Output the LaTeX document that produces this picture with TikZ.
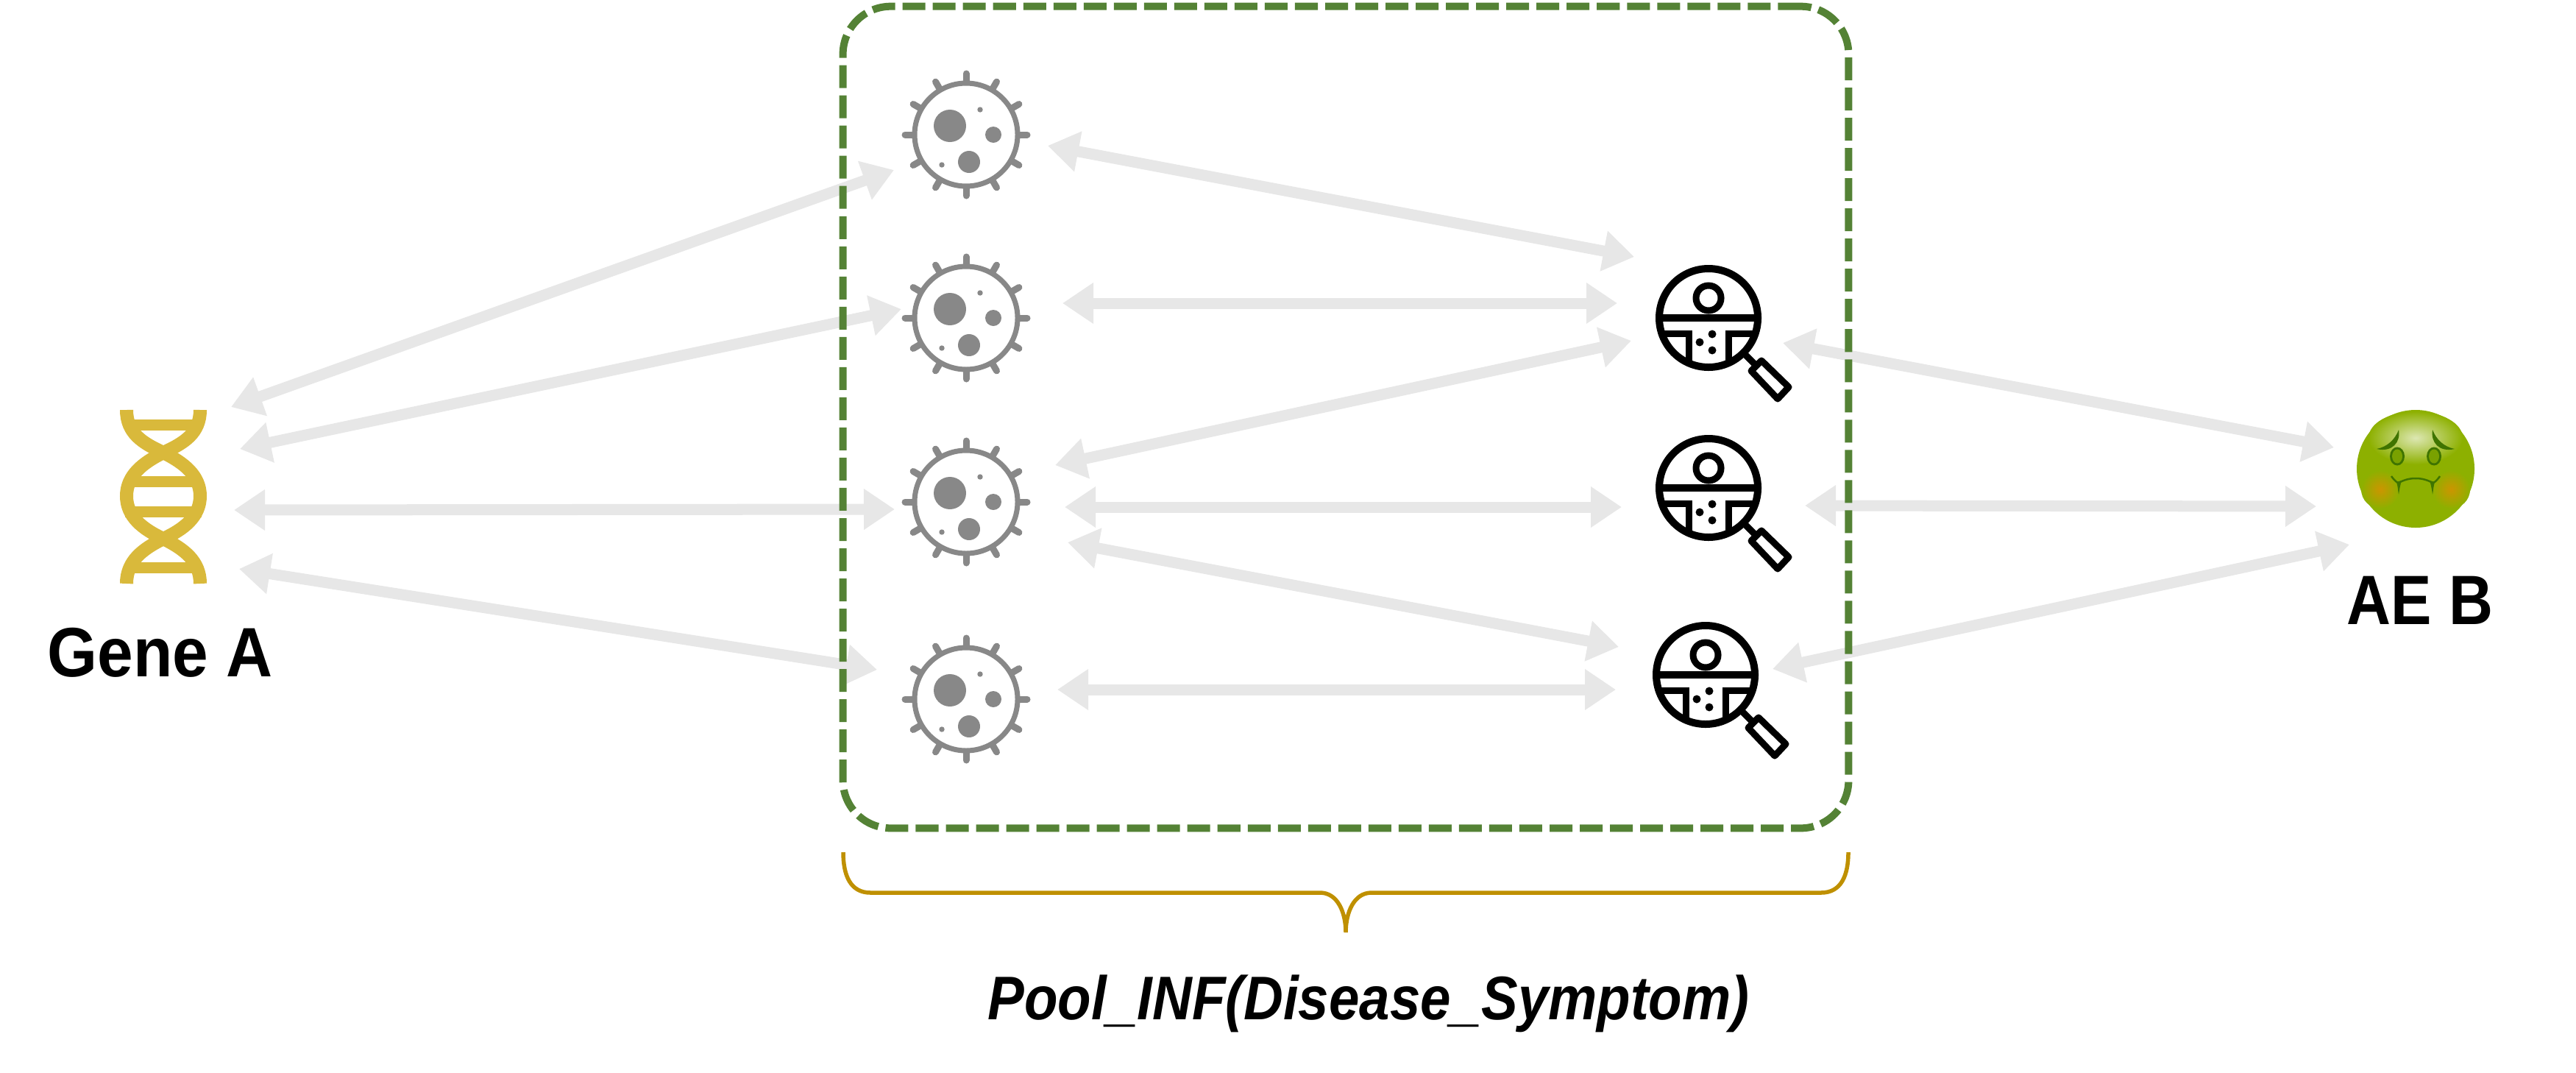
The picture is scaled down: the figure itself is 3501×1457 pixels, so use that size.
\documentclass[tikz,border=0pt]{standalone}
\usepackage{fontspec}
\usetikzlibrary{arrows.meta}
\newfontfamily\labelfont[FakeStretch=0.92]{Liberation Sans}
\newfontfamily\aefont[FakeStretch=0.875]{Liberation Sans}
\newfontfamily\poolfont[FakeStretch=0.89]{Liberation Sans}
\definecolor{poolgreen}{HTML}{548235}
\definecolor{bracegold}{HTML}{BF9000}
\definecolor{arrowgray}{HTML}{E7E7E7}
\definecolor{virusgray}{HTML}{888888}
\definecolor{dnagold}{HTML}{D9B93B}
\definecolor{sickgreen}{HTML}{8DB000}
\definecolor{sickdark}{HTML}{3F7400}
\tikzset{
    biarrow/.style = {line width=.15cm, draw=arrowgray, {Triangle[length=.42cm,width=.53cm]}-{Triangle[length=.42cm,width=.53cm]}},
    iconnode/.style = {inner sep=0pt, minimum size=0pt},
    labeltext/.style = {inner sep=0pt, anchor=base west, font=\labelfont\fontsize{27}{30}\selectfont\bfseries},
    aetext/.style = {inner sep=0pt, anchor=base west, font=\aefont\fontsize{27}{30}\selectfont\bfseries},
    pooltext/.style = {inner sep=0pt, anchor=base west, font=\poolfont\fontsize{23.8}{28}\selectfont\bfseries\itshape},
    poolbox/.style = {draw=poolgreen, line width=.1cm, dash pattern=on .31cm off .1cm, rounded corners=.65cm, inner sep=0pt, minimum width=13.66cm, minimum height=11.16cm},
    virus/.pic = {
        \draw[virusgray, line width=.07cm] (0,0) circle (70);
        \foreach \ang in {0,30,...,330}
            \draw[virusgray, line width=.09cm, line cap=round] (\ang:72) -- (\ang:83);
        \fill[virusgray] (-22,-12) circle (22);
        \fill[virusgray] (37,0) circle (11);
        \fill[virusgray] (4,37) circle (15);
        \fill[virusgray] (19,-34) circle (3.7);
        \fill[virusgray] (-33,41) circle (3.7);
    },
    lens/.pic = {
        \draw[black, line width=.1cm] (0,0) circle (67);
        \draw[black, line width=.09cm] (0,-27) circle (17);
        \draw[black, line width=.1cm] (-67,0) -- (67,0);
        \draw[black, line width=.09cm] (-60,21) -- (-27,21) -- (-27,58);
        \draw[black, line width=.09cm] (60,21) -- (27,21) -- (27,58);
        \fill[black] (5,22) circle (5.5);
        \fill[black] (-12,33) circle (5.5);
        \fill[black] (5,44) circle (5.5);
        \draw[black, line width=.09cm] (48,48) -- (64,64);
        \draw[black, line width=.09cm, line join=round] (72,58) -- (109,94) -- (94,110) -- (58,72) -- cycle;
    },
    dna/.pic = {
        % two strands and the rungs
        \draw[dnagold, line width=.18cm] (-50,-117) .. controls (-50,-85) and (-28,-72) .. (0,-59) .. controls (28,-45) and (50,-28) .. (50,0) .. controls (50,28) and (28,45) .. (0,58) .. controls (-28,72) and (-50,88) .. (-50,119);
        \draw[dnagold, line width=.18cm] (50,-117) .. controls (50,-85) and (28,-72) .. (0,-59) .. controls (-28,-45) and (-50,-28) .. (-50,0) .. controls (-50,28) and (-28,45) .. (0,58) .. controls (28,72) and (50,88) .. (50,119);
        \foreach \yy in {-97,-20,21,97}
            \draw[dnagold, line width=.15cm] (-52,\yy) -- (52,\yy);
    },
    sick/.pic = {
        \fill[sickgreen] (0,0) circle (80);
        \shade[inner color=sickgreen!30!white, outer color=sickgreen] (0,-42) ellipse (64 and 36);
        \shade[inner color=orange!55!sickgreen, outer color=sickgreen] (-48,28) circle (26);
        \shade[inner color=orange!55!sickgreen, outer color=sickgreen] (48,28) circle (26);
        \foreach \side in {1,-1} {
            \begin{scope}[xscale=\side]
                \fill[sickdark] (-53,-27) .. controls (-38,-30) and (-28,-40) .. (-23,-53) .. controls (-20,-36) and (-32,-22) .. cycle;
                \fill[sickdark] (-25,-17) ellipse (10 and 12.5);
                \fill[sickgreen!75!sickdark] (-25,-17) ellipse (7 and 9.5);
                \draw[sickdark, line width=.025cm] (-33,10) .. controls (-28,17) and (-25,19) .. (-23,19) .. controls (-14,14) and (-6,13) .. (0,13);
                \fill[sickdark] (-26,18) .. controls (-24,24) and (-24,30) .. (-23,35) .. controls (-22,28) and (-21,22) .. (-19,16) -- cycle;
            \end{scope}
        }
    }
}

\begin{document}
\begin{tikzpicture}[x=0.01cm, y=-0.01cm]
    \useasboundingbox (0,0) rectangle (3501,1457);

    % specify the icon nodes
    \node[iconnode] (gene) at (222,674) {};
    \node[iconnode] (vir1) at (1313,183) {};
    \node[iconnode] (vir2) at (1313,432) {};
    \node[iconnode] (vir3) at (1313,682) {};
    \node[iconnode] (vir4) at (1313,950) {};
    \node[iconnode] (lens1) at (2322,432) {};
    \node[iconnode] (lens2) at (2322,663) {};
    \node[iconnode] (lens3) at (2318,917) {};
    \node[iconnode] (ae) at (3283,637) {};

    % draw icons
    \pic at (gene.center) {dna};
    \pic at (vir1.center) {virus};
    \pic at (vir2.center) {virus};
    \pic at (vir3.center) {virus};
    \pic at (vir4.center) {virus};
    \pic at (lens1.center) {lens};
    \pic at (lens2.center) {lens};
    \pic at (lens3.center) {lens};
    \pic at (ae.center) {sick};

    % gene to disease
    \draw[biarrow] ([shift={(92,-121)}]gene.center) -- ([shift={(-98,48)}]vir1.center);
    \draw[biarrow] ([shift={(104,-64)}]gene.center) -- ([shift={(-88,-12)}]vir2.center);
    \draw[biarrow] ([shift={(96,19)}]gene.center) -- ([shift={(-97,10)}]vir3.center);
    \draw[biarrow] ([shift={(103,99)}]gene.center) -- ([shift={(-121,-40)}]vir4.center);

    % disease to symptom
    \draw[biarrow] ([shift={(111,15)}]vir1.center) -- ([shift={(-101,-83)}]lens1.center);
    \draw[biarrow] ([shift={(131,-20)}]vir2.center) -- ([shift={(-124,-20)}]lens1.center);
    \draw[biarrow] ([shift={(121,-50)}]vir3.center) -- ([shift={(-105,31)}]lens1.center);
    \draw[biarrow] ([shift={(134,7)}]vir3.center) -- ([shift={(-118,26)}]lens2.center);
    \draw[biarrow] ([shift={(138,55)}]vir3.center) -- ([shift={(-118,-38)}]lens3.center);
    \draw[biarrow] ([shift={(124,-13)}]vir4.center) -- ([shift={(-122,20)}]lens3.center);

    % symptom to adverse event
    \draw[biarrow] ([shift={(101,34)}]lens1.center) -- ([shift={(-111,-29)}]ae.center);
    \draw[biarrow] ([shift={(131,24)}]lens2.center) -- ([shift={(-135,51)}]ae.center);
    \draw[biarrow] ([shift={(91,-8)}]lens3.center) -- ([shift={(-90,103)}]ae.center);

    % draw dashed pool box
    \node[poolbox] (pool) at (1829,567) {};

    % brace under the box
    \draw[bracegold, line width=.055cm] (1146,1158) .. controls (1146,1190) and (1156,1213) .. (1183,1213) -- (1794,1213) .. controls (1818,1213) and (1829,1240) .. (1829,1267) .. controls (1829,1240) and (1840,1213) .. (1864,1213) -- (2475,1213) .. controls (2502,1213) and (2512,1190) .. (2512,1158);

    % labels
    \node[labeltext] (genelabel) at (64,919) {Gene A};
    \node[aetext] (aelabel) at (3189,848) {AE B};
    \node[pooltext] (poollabel) at (1342,1385) {Pool\_INF(Disease\_Symptom)};
\end{tikzpicture}
\end{document}
